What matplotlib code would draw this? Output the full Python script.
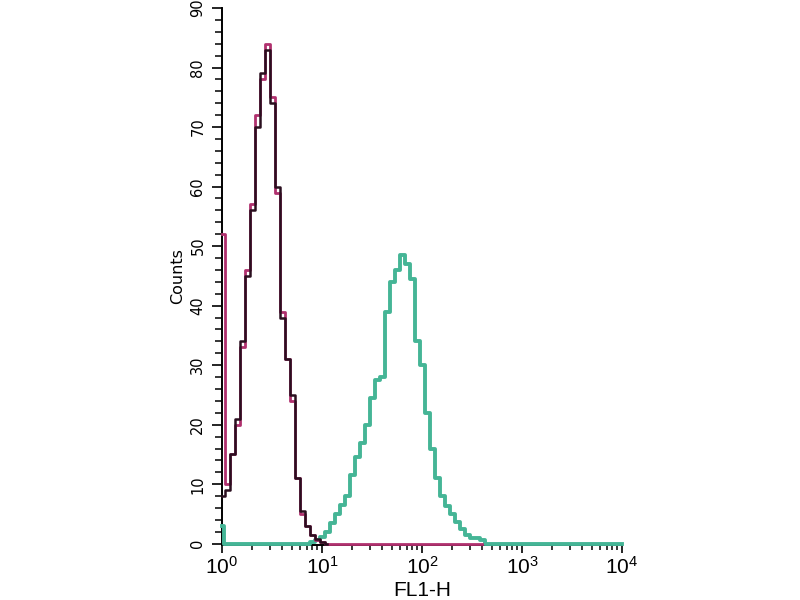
import numpy as np
import matplotlib
matplotlib.use("Agg")
import matplotlib.pyplot as plt
from matplotlib.ticker import LogLocator, MultipleLocator

#histogram channels, given as log10 of the FL1-H value
black_logx = [0.00, 0.05, 0.10, 0.15, 0.20, 0.25, 0.30, 0.35, 0.40, 0.45, 0.50,
              0.55, 0.60, 0.65, 0.70, 0.75, 0.80, 0.85, 0.90, 0.95, 1.00, 1.05]
black_counts = [8, 9, 15, 21, 34, 45, 56, 70, 79, 83, 74,
                60, 38, 31, 25, 11, 5.5, 3, 1.5, 0.8, 0.3, 0]

magenta_logx = [0.00, 0.05, 0.10, 0.15, 0.20, 0.25, 0.30, 0.35, 0.40, 0.45, 0.50,
                0.55, 0.60, 0.65, 0.70, 0.75, 0.80, 0.85, 0.90, 0.95, 1.00, 1.05, 2.60]
magenta_counts = [52, 10, 15, 20, 33, 46, 57, 72, 78, 84, 75,
                  59, 39, 31, 24, 11, 5, 3, 1.5, 0.7, 0.3, 0, 0]

teal_logx = [0.00, 0.03, 0.85, 0.90, 0.95, 1.00, 1.05, 1.10, 1.15, 1.20, 1.25,
             1.30, 1.35, 1.40, 1.45, 1.50, 1.55, 1.60, 1.65, 1.70, 1.75, 1.80,
             1.85, 1.90, 1.95, 2.00, 2.05, 2.10, 2.15, 2.20, 2.25, 2.30, 2.35,
             2.40, 2.45, 2.50, 2.55, 2.60, 2.65, 4.00]
teal_counts = [3, 0, 0, 0.3, 0.7, 1.2, 2, 3.5, 5, 6.5, 8,
               11.5, 14.5, 17, 20, 24.5, 27.5, 28, 39, 44, 46, 48.5,
               47, 44.5, 34, 30, 22, 16, 11, 8, 6.4, 5, 3.6,
               2.5, 1.4, 1, 0.9, 0.7, 0, 0]

plt.rcParams['font.family'] = ['Liberation Sans', 'DejaVu Sans']

fig = plt.figure(figsize=(8, 6), dpi=100)
ax = fig.add_axes([0.2775, 0.0917, 0.5, 0.895])

#teal first, then magenta, black on top
ax.plot(10 ** np.array(teal_logx), teal_counts, drawstyle='steps-mid',
        color='#45b596', lw=2.8, zorder=3, clip_on=False)
ax.plot(10 ** np.array(magenta_logx), magenta_counts, drawstyle='steps-mid',
        color='#b0306e', lw=2.0, zorder=4, clip_on=False)
ax.plot(10 ** np.array(black_logx), black_counts, drawstyle='steps-mid',
        color='#2a0f1f', lw=1.8, zorder=5, clip_on=False)

ax.set_xscale('log')
ax.set_xlim(1, 1e4)
ax.set_ylim(-0.2, 90)

ax.xaxis.set_major_locator(LogLocator(base=10, numticks=10))
ax.xaxis.set_minor_locator(LogLocator(base=10, subs=np.arange(2, 10), numticks=10))
ax.yaxis.set_major_locator(MultipleLocator(10))
ax.yaxis.set_minor_locator(MultipleLocator(2))

ax.spines['top'].set_visible(False)
ax.spines['right'].set_visible(False)
ax.spines['left'].set_linewidth(1.4)
ax.spines['bottom'].set_linewidth(1.4)

ax.tick_params(axis='x', which='major', length=6, width=1.2, labelsize=15, pad=2)
ax.tick_params(axis='x', which='minor', length=3.6, width=1.1)
ax.tick_params(axis='y', which='major', length=7, width=1.2, pad=5,
               labelsize=10.5, labelrotation=90)
ax.tick_params(axis='y', which='minor', length=5, width=1.1)

for lab in ax.get_yticklabels():
    lab.set_va('center')
    lab.set_family('DejaVu Sans')

ax.set_ylabel("Counts", family='DejaVu Sans', fontsize=11.5, labelpad=4)
ax.set_xlabel("FL1-H", fontsize=15, labelpad=2)

fig.savefig("out.png", dpi=100)
